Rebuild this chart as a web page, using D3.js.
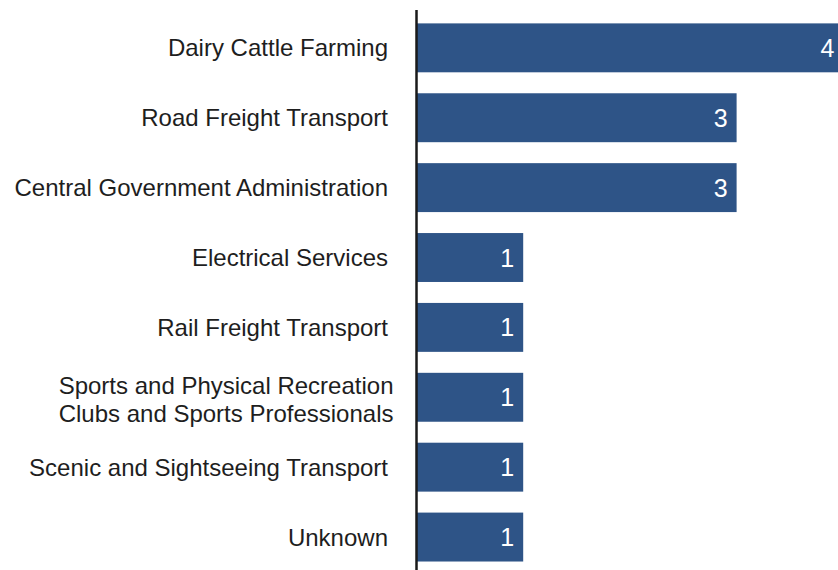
<!DOCTYPE html>
<html>
<head>
<meta charset="utf-8">
<script src="https://cdn.jsdelivr.net/npm/d3@7"></script>
<style>
  html, body { margin: 0; padding: 0; background: #fff; overflow: hidden; }
  svg { display: block; }
</style>
</head>
<body>
<svg id="chart" width="838" height="570"></svg>
<script>
// Industry categories (multi-line labels split with "\n")
const categories = [
  "Dairy Cattle Farming",
  "Road Freight Transport",
  "Central Government Administration",
  "Electrical Services",
  "Rail Freight Transport",
  "Sports and Physical Recreation\nClubs and Sports Professionals",
  "Scenic and Sightseeing Transport",
  "Unknown"
];
const counts = [4, 3, 3, 1, 1, 1, 1, 1];

const svg = d3.select("#chart");
const barColor = "#2e5487";
const font = "'Liberation Sans', Arial, Helvetica, sans-serif";

// Longest bar runs slightly past the right edge of the canvas
const x = d3.scaleLinear().domain([0, 4]).range([416.5, 843.3]);
const y = d3.scaleBand()
  .domain(categories)
  .range([12.9, 572])
  .paddingInner(0.3)
  .paddingOuter(0.15);

// Bars
svg.selectAll("rect.bar")
  .data(categories)
  .join("rect")
  .attr("class", "bar")
  .attr("x", x(0))
  .attr("y", d => y(d))
  .attr("width", (d, i) => x(counts[i]) - x(0))
  .attr("height", y.bandwidth())
  .attr("fill", barColor);

// Value labels inside bar ends
svg.selectAll("text.value")
  .data(categories)
  .join("text")
  .attr("class", "value")
  .attr("x", (d, i) => x(counts[i]) - 9)
  .attr("y", d => y(d) + y.bandwidth() / 2)
  .attr("dy", "0.36em")
  .attr("text-anchor", "end")
  .attr("fill", "#fff")
  .style("font-family", font)
  .style("font-size", "25px")
  .text((d, i) => counts[i]);

// Category axis: labels only, with a vertical baseline
const axis = d3.axisLeft(y).tickSize(0).tickPadding(0).tickFormat(() => "");
const gAxis = svg.append("g")
  .attr("transform", `translate(${x(0)},0)`)
  .call(axis);
gAxis.select(".domain").remove();
svg.append("line")
  .attr("x1", x(0)).attr("x2", x(0))
  .attr("y1", 10).attr("y2", 570)
  .attr("stroke", "#1a1a1a")
  .attr("stroke-width", 2.5);

gAxis.selectAll(".tick").each(function(d) {
  const lines = d.split("\n");
  const multi = lines.length > 1;
  const xOff = multi ? -23 : -28.5;
  const t = d3.select(this).select("text")
    .attr("x", xOff)
    .attr("text-anchor", "end")
    .attr("fill", "#1e1e1e")
    .style("font-family", font)
    .style("font-size", "24px")
    .attr("dy", null)
    .attr("y", 0);
  const lh = 28;
  lines.forEach((ln, i) => {
    t.append("tspan")
      .attr("x", xOff)
      .attr("y", (i - (lines.length - 1) / 2) * lh + (multi ? 2 : 0))
      .attr("dy", "0.36em")
      .text(ln);
  });
});
</script>
</body>
</html>
